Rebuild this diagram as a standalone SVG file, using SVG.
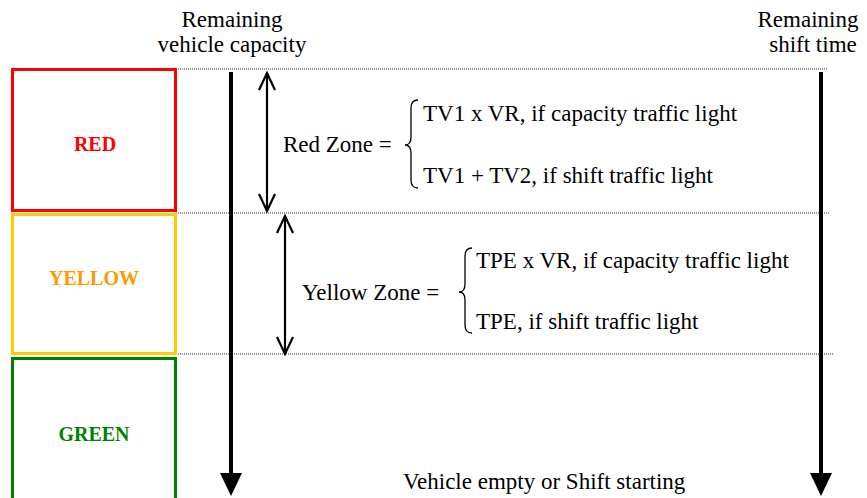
<svg xmlns="http://www.w3.org/2000/svg" width="867" height="498" viewBox="0 0 867 498">
<defs>
<style>
.t{font-family:"Liberation Serif","Times New Roman",serif;font-size:23px;fill:#000}
.z{font-family:"Liberation Serif","Times New Roman",serif;font-size:20px;font-weight:bold;text-anchor:middle}
.dot{stroke:#333;stroke-width:1;stroke-dasharray:1,1;fill:none}
.ax{stroke:#000;stroke-width:4;fill:none}
.dbl{stroke:#000;stroke-width:2.2;fill:none}
.br{stroke:#000;stroke-width:1.3;fill:none}
</style>
</defs>
<rect width="867" height="498" fill="#fff"/>
<g id="guides">
<line class="dot" x1="26" y1="69" x2="828" y2="69"/>
<line class="dot" x1="176" y1="213" x2="830" y2="213"/>
<line class="dot" x1="178" y1="354" x2="833" y2="354"/>
</g>
<g id="red-box">
<rect x="12.5" y="69.5" width="163" height="141" fill="none" stroke="#ff0000" stroke-width="3"/>
<text class="z" x="95" y="151" fill="#ff0000">RED</text>
</g>
<g id="yellow-box">
<rect x="12.5" y="214.5" width="163" height="139" fill="none" stroke="#ffcc00" stroke-width="3"/>
<text class="z" x="94" y="285" fill="#ff9900">YELLOW</text>
</g>
<g id="green-box">
<rect x="12.5" y="358.5" width="163" height="145" fill="none" stroke="#008000" stroke-width="3"/>
<text class="z" x="94" y="441" fill="#008000">GREEN</text>
</g>
<g id="labels">
<text class="t" x="232" y="27" text-anchor="middle">Remaining</text>
<text class="t" x="232" y="52" text-anchor="middle">vehicle capacity</text>
<text class="t" x="808" y="27" text-anchor="middle">Remaining</text>
<text class="t" x="813" y="52" text-anchor="middle">shift time</text>
<text class="t" x="283" y="152">Red Zone =</text>
<text class="t" x="423" y="121">TV1 x VR, if capacity traffic light</text>
<text class="t" x="423" y="183">TV1 + TV2, if shift traffic light</text>
<text class="t" x="302" y="300">Yellow Zone =</text>
<text class="t" x="476" y="268">TPE x VR, if capacity traffic light</text>
<text class="t" x="476" y="329">TPE, if shift traffic light</text>
<text class="t" x="403" y="489">Vehicle empty or Shift starting</text>
<path class="br" d="M418,100 Q411,100 411,108 L411,137 Q411,145 405,145 Q411,145 411,153 L411,180 Q411,188 418,188"/>
<path class="br" d="M472,248 Q465,248 465,256 L465,284 Q465,292 459,292 Q465,292 465,300 L465,325 Q465,333 472,333"/>
</g>
<g id="connectors">
<line class="ax" x1="231" y1="72" x2="231" y2="476"/>
<polygon points="220,473 242,473 231,496" fill="#000"/>
<line class="ax" x1="821" y1="72" x2="821" y2="476"/>
<polygon points="810,473 832,473 821,496" fill="#000"/>
<line class="dbl" x1="267" y1="73" x2="267" y2="211"/>
<polyline class="dbl" points="259,90 267,73 275,90"/>
<polyline class="dbl" points="259,194 267,211 275,194"/>
<line class="dbl" x1="285" y1="216" x2="285" y2="354"/>
<polyline class="dbl" points="277,233 285,216 293,233"/>
<polyline class="dbl" points="277,337 285,354 293,337"/>
</g>
</svg>
